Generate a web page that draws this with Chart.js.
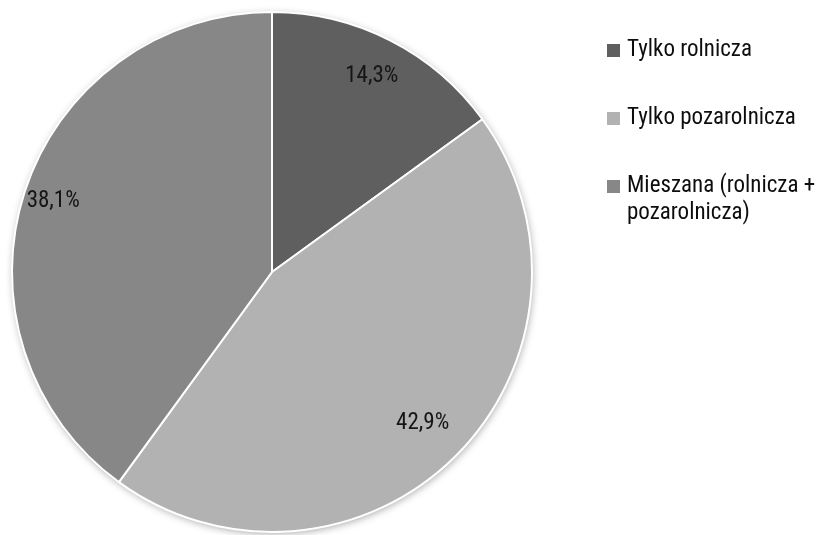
<!DOCTYPE html>
<html>
<head>
<meta charset="utf-8">
<script src="https://cdn.jsdelivr.net/npm/chart.js@4/dist/chart.umd.min.js"></script>
<style>
  html, body { margin: 0; padding: 0; background: #fff; overflow: hidden; }
  #wrap { position: relative; width: 821px; height: 535px; }
  #c { position: absolute; left: 0; top: 0; }
  #legend { position: absolute; left: 607px; top: 35px; margin: 0; padding: 0; list-style: none;
    font-family: "Roboto Condensed", "Liberation Sans Narrow", "DejaVu Sans Condensed", "Arial Narrow", Roboto, sans-serif;
    font-size: 23px; color: #0d0d0d; }
  #legend li { position: relative; padding-left: 20px; line-height: 27px; margin-bottom: 41px; width: 214px; }
  #legend li span { position: absolute; left: 0; top: 9px; width: 13px; height: 13px; }
</style>
</head>
<body>
<div id="wrap">
  <canvas id="c" width="821" height="535"></canvas>
  <ul id="legend"></ul>
</div>
<script>
const categories = ["Tylko rolnicza", "Tylko pozarolnicza", "Mieszana (rolnicza + pozarolnicza)"];
const legendLines = [["Tylko rolnicza"], ["Tylko pozarolnicza"], ["Mieszana (rolnicza +", "pozarolnicza)"]];
const shares = [14.3, 42.9, 38.1];
const sliceColors = ["#5f5f5f", "#b2b2b2", "#878787"];

const FONT = '"Roboto Condensed", "Liberation Sans Narrow", "DejaVu Sans Condensed", "Arial Narrow", Roboto, sans-serif';

// soft drop shadow behind the whole pie
const pieShadow = {
  id: 'pieShadow',
  beforeDatasetsDraw(chart) {
    const arc = chart.getDatasetMeta(0).data[0];
    if (!arc) return;
    const ctx = chart.ctx;
    ctx.save();
    ctx.shadowColor = 'rgba(0,0,0,0.4)';
    ctx.shadowBlur = 9;
    ctx.shadowOffsetX = 1;
    ctx.shadowOffsetY = 2;
    ctx.fillStyle = '#ffffff';
    ctx.beginPath();
    ctx.arc(arc.x, arc.y, arc.outerRadius - 1, 0, Math.PI * 2);
    ctx.fill();
    ctx.restore();
  }
};

// value labels inside each slice, formatted with a decimal comma
const sliceLabels = {
  id: 'sliceLabels',
  afterDatasetsDraw(chart) {
    const ctx = chart.ctx;
    const meta = chart.getDatasetMeta(0);
    const radial = [0.845, 0.82, 0.885];
    ctx.save();
    ctx.font = '23px ' + FONT;
    ctx.fillStyle = '#151515';
    ctx.textAlign = 'center';
    ctx.textBaseline = 'middle';
    meta.data.forEach((arc, i) => {
      const mid = (arc.startAngle + arc.endAngle) / 2;
      const r = arc.outerRadius * radial[i];
      const x = arc.x + Math.cos(mid) * r;
      const y = arc.y + Math.sin(mid) * r;
      ctx.fillText(shares[i].toFixed(1).replace('.', ',') + '%', x, y);
    });
    ctx.restore();
  }
};

new Chart(document.getElementById('c'), {
  type: 'pie',
  data: {
    labels: categories,
    datasets: [{
      data: shares,
      backgroundColor: sliceColors,
      borderColor: '#ffffff',
      borderWidth: 2
    }]
  },
  options: {
    responsive: false,
    animation: false,
    layout: { padding: { left: 11, top: 11, right: 288, bottom: 2 } },
    plugins: {
      legend: { display: false },
      tooltip: { enabled: false }
    }
  },
  plugins: [pieShadow, sliceLabels]
});

// legend entries, the long one broken over two lines
const ul = document.getElementById('legend');
legendLines.forEach((lines, i) => {
  const li = document.createElement('li');
  const sw = document.createElement('span');
  sw.style.background = sliceColors[i];
  li.appendChild(sw);
  lines.forEach((t, k) => {
    if (k) li.appendChild(document.createElement('br'));
    li.appendChild(document.createTextNode(t));
  });
  ul.appendChild(li);
});
</script>
</body>
</html>
